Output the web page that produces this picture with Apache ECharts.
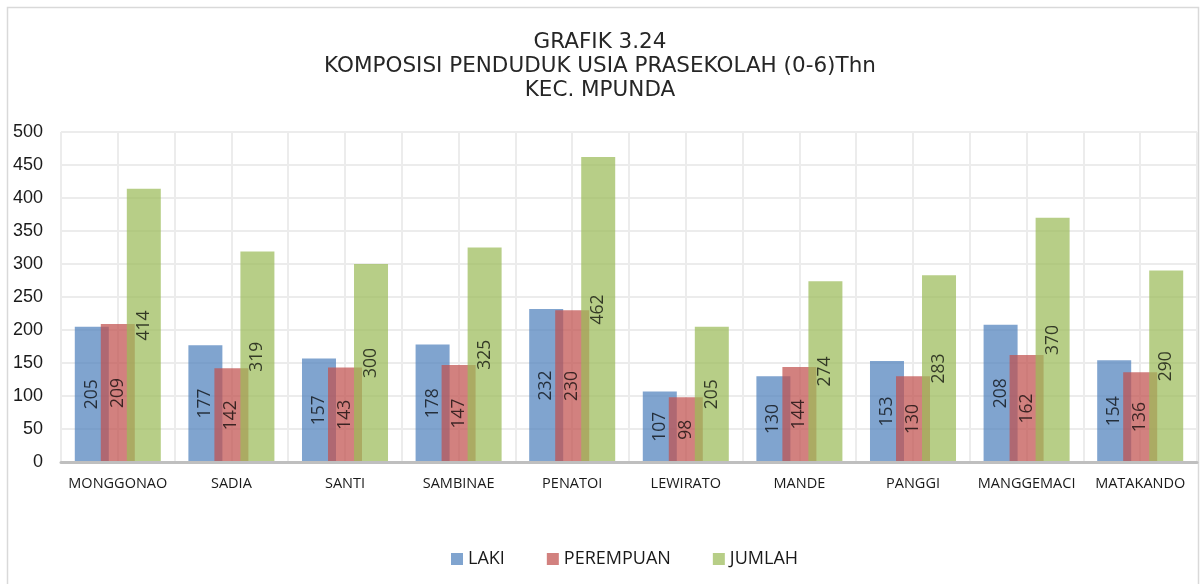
<!DOCTYPE html>
<html>
<head>
<meta charset="utf-8">
<script src="https://cdn.jsdelivr.net/npm/echarts@6/dist/echarts.min.js"></script>
<style>
  html, body { margin: 0; padding: 0; background: #ffffff; }
  #chart { width: 1200px; height: 584px; }
</style>
</head>
<body>
<div id="chart"></div>
<script>
// Population of pre-school age (0-6 yrs) per kelurahan, Kec. Mpunda
const categories = ['MONGGONAO', 'SADIA', 'SANTI', 'SAMBINAE', 'PENATOI', 'LEWIRATO', 'MANDE', 'PANGGI', 'MANGGEMACI', 'MATAKANDO'];
const laki      = [205, 177, 157, 178, 232, 107, 130, 153, 208, 154];
const perempuan = [209, 142, 143, 147, 230,  98, 144, 130, 162, 136];
const jumlah    = [414, 319, 300, 325, 462, 205, 274, 283, 370, 290];
const seriesNames = ['LAKI', 'PEREMPUAN', 'JUMLAH'];
const titleLines = ['GRAFIK 3.24', 'KOMPOSISI PENDUDUK USIA PRASEKOLAH (0-6)Thn', 'KEC. MPUNDA'];

const colors = ['#4F81BD', '#C0504D', '#9BBB59'];
const barOpacity = 0.72;

const chart = echarts.init(document.getElementById('chart'), null, { renderer: 'canvas' });

function barSeries(name, data, color) {
  return {
    name: name,
    type: 'bar',
    xAxisIndex: 0,
    yAxisIndex: 0,
    data: data,
    barWidth: 34,
    barGap: '-23.5%',
    itemStyle: { color: color, opacity: barOpacity },
    label: {
      show: true,
      position: 'inside',
      rotate: 90,
      fontFamily: 'Open Sans',
      fontSize: 17.5,
      color: '#000000'
    },
    emphasis: { disabled: true }
  };
}

const option = {
  animation: false,
  backgroundColor: '#ffffff',
  title: {
    text: titleLines.join('\n'),
    left: 'center',
    top: 25,
    textStyle: {
      fontFamily: 'DejaVu Sans',
      fontSize: 21.5,
      fontWeight: 'normal',
      color: '#262626',
      lineHeight: 24
    }
  },
  legend: {
    left: 446,
    top: 545,
    itemWidth: 12,
    itemHeight: 12,
    itemGap: 42,
    icon: 'rect',
    textStyle: { fontFamily: 'Open Sans', fontSize: 18, color: '#1a1a1a' },
    data: seriesNames.map((n, i) => ({ name: n, itemStyle: { color: colors[i], opacity: barOpacity } }))
  },
  grid: { left: 61, right: 3, top: 132, bottom: 122, containLabel: false },
  xAxis: [
    {
      type: 'category',
      data: categories,
      axisLine: { show: true, lineStyle: { color: '#bfbfbf', width: 3 } },
      axisTick: { show: false },
      splitLine: { show: false },
      axisLabel: {
        interval: 0,
        margin: 14,
        fontFamily: 'Open Sans',
        fontSize: 14.5,
        color: '#1a1a1a'
      },
      z: 3
    },
    {
      // helper axis: vertical grid lines at every category centre and boundary
      type: 'value',
      position: 'bottom',
      min: 0,
      max: 20,
      interval: 1,
      axisLine: { show: false },
      axisTick: { show: false },
      axisLabel: { show: false },
      splitLine: { show: true, lineStyle: { color: '#ececec', width: 2 } }
    }
  ],
  yAxis: {
    type: 'value',
    min: 0,
    max: 500,
    interval: 50,
    axisLine: { show: false },
    axisTick: { show: false },
    axisLabel: {
      margin: 18,
      fontFamily: 'Liberation Sans',
      fontSize: 18,
      color: '#1a1a1a'
    },
    splitLine: { show: true, lineStyle: { color: '#ececec', width: 2 } }
  },
  graphic: [
    {
      type: 'rect',
      silent: true,
      z: -10,
      shape: { x: 7.5, y: 7.5, width: 1191, height: 620 },
      style: { fill: 'none', stroke: '#d9d9d9', lineWidth: 1.5 }
    }
  ],
  series: [
    barSeries(seriesNames[0], laki, colors[0]),
    barSeries(seriesNames[1], perempuan, colors[1]),
    barSeries(seriesNames[2], jumlah, colors[2])
  ]
};

chart.setOption(option);
</script>
</body>
</html>
